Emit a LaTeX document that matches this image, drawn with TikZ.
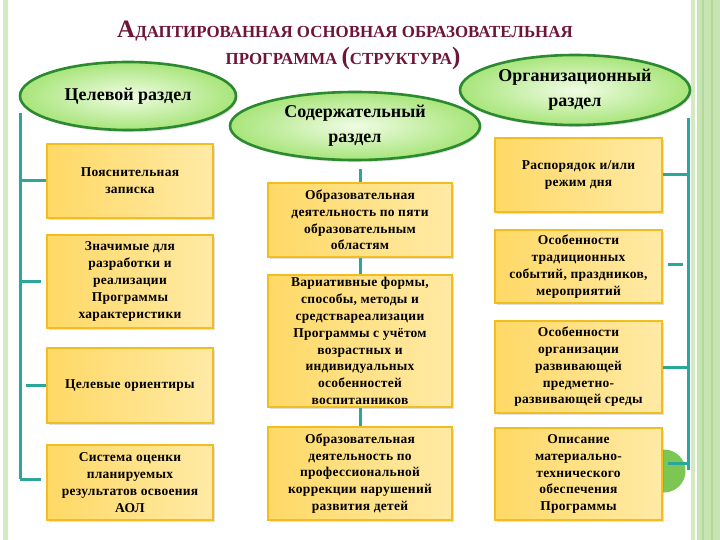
\documentclass[tikz,border=0pt]{standalone}
\usepackage{fontspec}
\setmainfont{Liberation Serif}
\newfontfamily\boxfont[LetterSpace=2]{Liberation Serif}
\usetikzlibrary{shapes.geometric,shadows,calc}
\definecolor{tealline}{HTML}{2CA59B}
\definecolor{titlecol}{HTML}{6E1538}
\definecolor{ovalborder}{HTML}{2B8A30}
\definecolor{ovalin}{HTML}{F0FCE4}
\definecolor{ovalout}{HTML}{A8E57A}
\definecolor{boxborder}{HTML}{F2BE1F}
\definecolor{boxL}{HTML}{FFD966}
\definecolor{boxR}{HTML}{FFEAA6}
\definecolor{stripeA}{HTML}{D3EAC3}
\definecolor{stripeB}{HTML}{C7E4B3}
\definecolor{stripeC}{HTML}{B3D99A}
\definecolor{circgreen}{HTML}{7CC653}
\tikzset{
  oval/.style={ellipse, draw=ovalborder, line width=2.6pt, inner color=ovalin, outer color=ovalout,
    drop shadow={opacity=0.25, shadow xshift=1.5pt, shadow yshift=-2pt},
    align=center, inner sep=0pt, font=\fontsize{18}{25}\selectfont\bfseries},
  ybox/.style={rectangle, draw=boxborder, line width=2pt, left color=boxL, right color=boxR,
    drop shadow={opacity=0.25, shadow xshift=1.5pt, shadow yshift=-2pt},
    align=center, inner sep=2pt, font=\boxfont\fontsize{13.5}{16.8}\selectfont\bfseries},
  conn/.style={draw=tealline, line width=3pt},
  ttl/.style={text=titlecol, anchor=base, inner sep=0pt, font=\bfseries}
}
\newcommand{\BigS}{\fontsize{25}{25}\selectfont}
\newcommand{\SmS}{\fontsize{16.9}{16.9}\selectfont}
\begin{document}
\begin{tikzpicture}[x=1pt,y=-1pt]
\useasboundingbox (0,0) rectangle (720,540);
\fill[white] (0,0) rectangle (720,540);
% slide decoration
\fill[stripeA] (3,0) rectangle (8,540);
\fill[stripeA] (691,0) rectangle (695,540);
\fill[stripeB] (697,0) rectangle (720,540);
\fill[stripeC] (702,0) rectangle (703.5,540);
\fill[stripeC] (711,0) rectangle (712.5,540);
% title
\node[ttl] (t1) at (345,38) {\BigS А\SmS ДАПТИРОВАННАЯ ОСНОВНАЯ ОБРАЗОВАТЕЛЬНАЯ};
\node[ttl] (t2) at (343,65) {\SmS ПРОГРАММА \BigS(\SmS СТРУКТУРА\BigS)};
% green circle behind last right box
\fill[circgreen] (664,471) circle (21.5);
% ovals
\node[oval, minimum width=216, minimum height=68] (E1) at (128,96) {Целевой раздел};
\node[oval, minimum width=230, minimum height=70] (E3) at (575,90) {Организационный\\раздел};
\node[oval, minimum width=250, minimum height=68] (E2) at (355,126) {Содержательный\\раздел};
% left boxes
\node[ybox, minimum width=166, minimum height=74] (L1) at (130,181) {Пояснительная\\записка};
\node[ybox, minimum width=166, minimum height=93] (L2) at (130,281.5) {Значимые для\\разработки и\\реализации\\Программы\\характеристики};
\node[ybox, minimum width=166, minimum height=75] (L3) at (130,385.5) {Целевые ориентиры};
\node[ybox, minimum width=166, minimum height=75] (L4) at (130,482.5) {Система оценки\\планируемых\\результатов освоения\\АОЛ};
% middle boxes
\node[ybox, minimum width=184, minimum height=74] (M1) at (360,220) {Образовательная\\деятельность по пяти\\образовательным\\областям};
\node[ybox, minimum width=184, minimum height=132] (M2) at (360,341) {Вариативные формы,\\способы, методы и\\средствареализации\\Программы с учётом\\возрастных и\\индивидуальных\\особенностей\\воспитанников};
\node[ybox, minimum width=184, minimum height=93] (M3) at (360,473.5) {Образовательная\\деятельность по\\профессиональной\\коррекции нарушений\\развития детей};
% right boxes
\node[ybox, minimum width=167, minimum height=74] (R1) at (578.5,175) {Распорядок и/или\\режим дня};
\node[ybox, minimum width=167, minimum height=73] (R2) at (578.5,266.5) {Особенности\\традиционных\\событий, праздников,\\мероприятий};
\node[ybox, minimum width=167, minimum height=92] (R3) at (578.5,367) {Особенности\\организации\\развивающей\\предметно-\\развивающей среды};
\node[ybox, minimum width=167, minimum height=92] (R4) at (578.5,474) {Описание\\материально-\\технического\\обеспечения\\Программы};
% left connectors
\coordinate (Ltop) at (20,113);
\coordinate (Lbot) at (20,479);
\draw[conn] (Ltop) -- (Lbot);
\draw[conn] (Ltop |- L1.west) -- (L1.west);
\draw[conn, shorten >=5pt] (Ltop |- L2.west) -- (L2.west);
\draw[conn, shorten <=6pt] (Ltop |- L3.west) -- (L3.west);
\draw[conn, shorten >=5pt] (Lbot) -- (Lbot -| L4.west);
% middle connectors
\draw[conn, shorten >=8pt] (M1.north) -- (M1.north |- E2.south);
\draw[conn] (M1.south) -- (M2.north);
\draw[conn] (M2.south) -- (M3.north);
% right connectors
\coordinate (Rtop) at (688,118);
\coordinate (Rbot) at (688,470);
\coordinate (r2e) at ([yshift=2.5pt]R2.east);
\coordinate (r4e) at ([yshift=11pt]R4.east);
\draw[conn] (Rtop) -- (Rbot);
\draw[conn] (R1.east) -- (Rtop |- R1.east);
\draw[conn, shorten <=5pt, shorten >=5pt] (r2e) -- (Rtop |- r2e);
\draw[conn] (R3.east) -- (Rtop |- R3.east);
\draw[conn, shorten <=5pt] (r4e) -- (Rtop |- r4e);
\end{tikzpicture}
\end{document}
